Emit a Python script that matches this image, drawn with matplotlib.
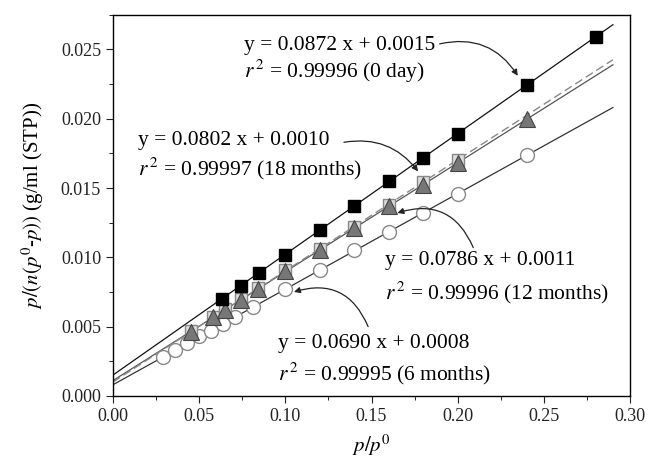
import numpy as np
import matplotlib
matplotlib.use("Agg")
import matplotlib.pyplot as plt
from matplotlib.ticker import MultipleLocator

plt.rcParams['font.family'] = ['Liberation Serif', 'DejaVu Serif']
plt.rcParams['mathtext.fontset'] = 'stix'

# 0 day (filled squares)
x_0d = [0.063, 0.074, 0.085, 0.100, 0.120, 0.140, 0.160, 0.180, 0.200, 0.240, 0.280]
y_0d = [0.0070, 0.0079, 0.0089, 0.0102, 0.0120, 0.0137, 0.0155, 0.0172, 0.0189, 0.0224, 0.0259]

# 18 months (open squares)
x_18m = [0.045, 0.058, 0.065, 0.074, 0.084, 0.100, 0.120, 0.140, 0.160, 0.180, 0.200]
y_18m = [0.0047, 0.0057, 0.0063, 0.0070, 0.0078, 0.0091, 0.0106, 0.0122, 0.0138, 0.0154, 0.0170]

# 12 months (grey triangles)
x_12m = [0.045, 0.058, 0.065, 0.074, 0.084, 0.100, 0.120, 0.140, 0.160, 0.180, 0.200, 0.240]
y_12m = [0.0046, 0.0057, 0.0062, 0.0069, 0.0077, 0.0090, 0.0105, 0.0121, 0.0137, 0.0152, 0.0168, 0.0200]

# 6 months (open circles)
x_6m = [0.029, 0.036, 0.043, 0.050, 0.057, 0.064, 0.071, 0.081, 0.100, 0.120, 0.140, 0.160, 0.180, 0.200, 0.240]
y_6m = [0.0028, 0.0033, 0.0038, 0.0043, 0.0047, 0.0052, 0.0057, 0.0064, 0.0077, 0.0091, 0.0105, 0.0118, 0.0132, 0.0146, 0.0174]

# linear fits: slope, intercept
fit_0d = (0.0872, 0.0015)
fit_18m = (0.0802, 0.0010)
fit_12m = (0.0786, 0.0011)
fit_6m = (0.0690, 0.0008)
fit_range = [0.0, 0.29]

fig = plt.figure(figsize=(6.49, 4.63), dpi=100)
ax = fig.add_axes([0.174, 0.145, 0.797, 0.823])

xf = np.array(fit_range)
ax.plot(xf, fit_6m[0] * xf + fit_6m[1], color='#333333', lw=0.9, zorder=2)
ax.plot(xf, fit_12m[0] * xf + fit_12m[1], color='#555555', lw=0.9, zorder=2)
ax.plot(xf, fit_18m[0] * xf + fit_18m[1], color='#888888', lw=1.0, ls=(0, (6, 3)), zorder=2)
ax.plot(xf, fit_0d[0] * xf + fit_0d[1], color='#111111', lw=0.9, zorder=2)

ax.plot(x_6m, y_6m, 'o', ms=10, mfc='white', mec='#888888', mew=1.0, zorder=3)
ax.plot(x_18m, y_18m, 's', ms=9, mfc='#dddddd', mec='#888888', mew=1.0, zorder=4)
ax.plot(x_12m, y_12m, '^', ms=11, mfc='#777777', mec='#444444', mew=0.8, zorder=5)
ax.plot(x_0d, y_0d, 's', ms=9, mfc='black', mec='black', zorder=6)

ax.set_xlim(0, 0.30)
ax.set_ylim(0, 0.0275)
ax.xaxis.set_major_locator(MultipleLocator(0.05))
ax.xaxis.set_minor_locator(MultipleLocator(0.025))
ax.yaxis.set_major_locator(MultipleLocator(0.005))
ax.yaxis.set_minor_locator(MultipleLocator(0.0025))
ax.xaxis.set_major_formatter(plt.FormatStrFormatter('%.2f'))
ax.yaxis.set_major_formatter(plt.FormatStrFormatter('%.3f'))
ax.tick_params(which='major', direction='out', length=5, labelsize=13, colors='#222222')
ax.tick_params(which='minor', direction='out', length=3)
for s in ax.spines.values():
    s.set_linewidth(1.0)

ax.set_xlabel(r'$p/p^0$', fontsize=15, labelpad=6)
ax.set_ylabel(r'$p/(n(p^0$-$p))$ (g/ml (STP))', fontsize=15, labelpad=11)

tfs = 15.5
arr = dict(arrowstyle='-|>', color='#222222', lw=0.9, mutation_scale=9, shrinkA=0, shrinkB=0)

ax.text(0.076, 0.0253, 'y = 0.0872 x + 0.0015', fontsize=tfs, va='center')
ax.text(0.076, 0.0234, r'$r^{\,2}$ = 0.99996 (0 day)', fontsize=tfs, va='center')
ax.annotate('', xy=(0.2348, 0.0231), xytext=(0.1895, 0.0254),
            arrowprops=dict(arr, connectionstyle='arc3,rad=-0.35'))

ax.text(0.0145, 0.0184, 'y = 0.0802 x + 0.0010', fontsize=tfs, va='center')
ax.text(0.0145, 0.0164, r'$r^{\,2}$ = 0.99997 (18 months)', fontsize=tfs, va='center')
ax.annotate('', xy=(0.177, 0.0162), xytext=(0.134, 0.0183),
            arrowprops=dict(arr, connectionstyle='arc3,rad=-0.3'))

ax.text(0.158, 0.0098, 'y = 0.0786 x + 0.0011', fontsize=tfs, va='center')
ax.text(0.158, 0.0074, r'$r^{\,2}$ = 0.99996 (12 months)', fontsize=tfs, va='center')
ax.annotate('', xy=(0.165, 0.0132), xytext=(0.209, 0.0107),
            arrowprops=dict(arr, connectionstyle='arc3,rad=0.45'))

ax.text(0.096, 0.0038, 'y = 0.0690 x + 0.0008', fontsize=tfs, va='center')
ax.text(0.096, 0.0016, r'$r^{\,2}$ = 0.99995 (6 months)', fontsize=tfs, va='center')
ax.annotate('', xy=(0.105, 0.0075), xytext=(0.148, 0.0050),
            arrowprops=dict(arr, connectionstyle='arc3,rad=0.45'))

fig.savefig('out.png', dpi=100)
